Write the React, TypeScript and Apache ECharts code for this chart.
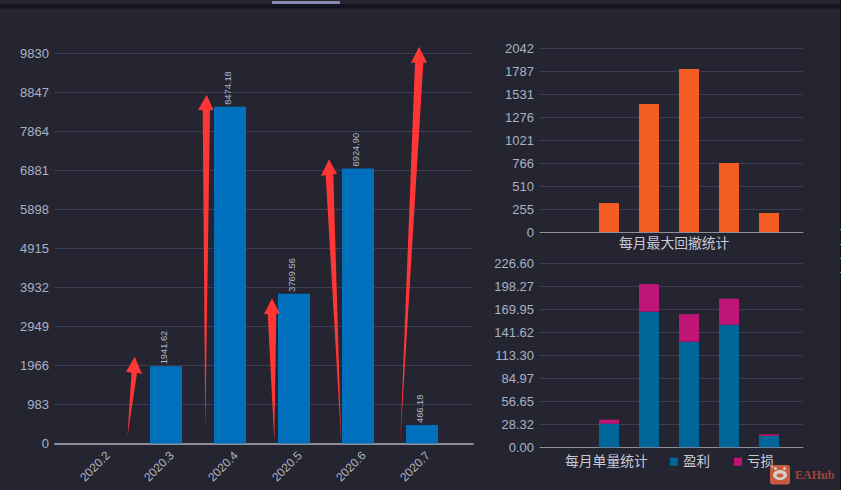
import { useEffect, useRef } from 'react';
import * as echarts from 'echarts';

const months = ['2020.2', '2020.3', '2020.4', '2020.5', '2020.6', '2020.7'];
const monthlyProfit = [0, 1941.62, 8474.18, 3769.56, 6924.9, 466.18];
const maxDrawdown = [0, 322, 1423, 1812, 767, 211];
const winOrders = [0, 29, 167, 130, 151, 14];
const lossOrders = [0, 5, 34, 34, 32, 2];

const profitTicks = ['0', '983', '1966', '2949', '3932', '4915', '5898', '6881', '7864', '8847', '9830'];
const drawdownTicks = ['0', '255', '510', '766', '1021', '1276', '1531', '1787', '2042'];
const orderTicks = ['0.00', '28.32', '56.65', '84.97', '113.30', '141.62', '169.95', '198.27', '226.60'];

// hand drawn arrows sitting on top of the screenshot
const arrows = [
  [[127.5, 436], [131.5, 372.7], [126, 371.7], [134.7, 356.7], [142, 373.7], [137, 373]],
  [[205.3, 431.7], [202.7, 110.3], [198, 110], [206.7, 95], [213.7, 110.3], [210, 110.3]],
  [[274.3, 441], [267.7, 314], [264, 314.3], [272, 298.3], [280, 313.7], [276.3, 313.7]],
  [[341.3, 444.3], [325.7, 175.3], [321, 175.7], [329, 159.3], [337, 174], [333.3, 174.3]],
  [[400.3, 441.7], [415, 62.7], [411, 62.7], [419, 46.7], [427, 62.7], [423.3, 62.7]],
];
const greenMarks = [229, 244, 258, 272];

const bg = '#252532';
const tickColor = '#a9b1c2';
const lineColor = '#3f3d56';
const font = '"Liberation Sans", "Noto Sans CJK SC", sans-serif';

function frameAxes(gridIndex: number, max: number, interval: number, ticks: string[], axisWidth: number) {
  return {
    x: {
      type: 'category',
      gridIndex,
      data: months,
      axisTick: { show: false },
      axisLabel: { show: false },
      axisLine: { lineStyle: { color: '#8f8f9c', width: axisWidth } },
    },
    y: {
      type: 'value',
      gridIndex,
      min: 0,
      max,
      interval,
      axisLine: { show: false },
      axisTick: { show: false },
      axisLabel: {
        color: tickColor,
        fontSize: 13,
        fontFamily: font,
        margin: 6,
        formatter: (_v: number, i: number) => ticks[i],
      },
      splitLine: { lineStyle: { color: lineColor, width: 1 } },
    },
  };
}

function barAxes(gridIndex: number, max: number, showLabels: boolean) {
  return {
    x: {
      type: 'category',
      gridIndex,
      data: months,
      axisTick: { show: false },
      axisLine: { show: false },
      axisLabel: showLabels
        ? { color: tickColor, fontSize: 12, fontFamily: font, rotate: 45, margin: 10, interval: 0 }
        : { show: false },
    },
    y: { type: 'value', gridIndex, min: 0, max, show: false, splitLine: { show: false } },
  };
}

export default function App() {
  const chartRef = useRef<HTMLDivElement>(null);

  useEffect(() => {
    const chart = echarts.init(chartRef.current, null, { renderer: 'svg' });

    const axes = [
      frameAxes(0, 9830, 983, profitTicks, 2),
      barAxes(1, 9830, false),
      frameAxes(2, 2042, 255.25, drawdownTicks, 1),
      barAxes(3, 2042, false),
      frameAxes(4, 226.6, 28.325, orderTicks, 1),
      barAxes(5, 226.6, false),
      // month labels sit a little right of the bars, so they get their own grid
      barAxes(6, 9830, true),
    ];

    const option = {
      animation: false,
      backgroundColor: bg,
      textStyle: { fontFamily: font },
      title: [
        {
          text: '每月最大回撤统计',
          left: 619,
          top: 237,
          padding: 0,
          textStyle: { color: '#c6cad6', fontSize: 13.8, fontWeight: 'normal' },
        },
        {
          text: '每月单量统计',
          left: 565,
          top: 455,
          padding: 0,
          textStyle: { color: '#c6cad6', fontSize: 13.8, fontWeight: 'normal' },
        },
      ],
      legend: {
        left: 670,
        top: 455,
        padding: 0,
        icon: 'rect',
        itemWidth: 8,
        itemHeight: 8,
        itemGap: 24,
        data: ['盈利', '亏损'],
        textStyle: { color: '#c6cad6', fontSize: 13.5 },
      },
      grid: [
        { left: 55, top: 53, width: 418, height: 390.5 },
        { left: 70, top: 53, width: 384, height: 390.5 },
        { left: 540, top: 48.3, width: 263, height: 183.7 },
        { left: 549, top: 48.3, width: 240, height: 183.7 },
        { left: 540, top: 263.3, width: 263, height: 184 },
        { left: 549, top: 263.3, width: 240, height: 184 },
        { left: 76, top: 53, width: 384, height: 390.5 },
      ],
      xAxis: axes.map((a) => a.x),
      yAxis: axes.map((a) => a.y),
      series: [
        {
          name: '月盈利',
          type: 'bar',
          xAxisIndex: 1,
          yAxisIndex: 1,
          data: monthlyProfit.map((v) => (v ? v : null)),
          barWidth: 32,
          itemStyle: { color: '#0070bc' },
          label: {
            show: true,
            position: 'top',
            rotate: 90,
            align: 'left',
            verticalAlign: 'middle',
            distance: 2,
            offset: [0, -2],
            color: '#aeb8c6',
            fontSize: 9.3,
            fontFamily: font,
            formatter: (p: any) => p.value.toFixed(2),
          },
        },
        {
          name: '最大回撤',
          type: 'bar',
          xAxisIndex: 3,
          yAxisIndex: 3,
          data: maxDrawdown,
          barWidth: 20,
          itemStyle: { color: '#f35c23' },
        },
        {
          name: '盈利',
          type: 'bar',
          stack: 'orders',
          xAxisIndex: 5,
          yAxisIndex: 5,
          data: winOrders,
          barWidth: 20,
          itemStyle: { color: '#006699' },
        },
        {
          name: '亏损',
          type: 'bar',
          stack: 'orders',
          xAxisIndex: 5,
          yAxisIndex: 5,
          data: lossOrders,
          barWidth: 20,
          itemStyle: { color: '#be1577' },
        },
      ],
      graphic: [
        { type: 'rect', z: 50, shape: { x: 0, y: 4, width: 841, height: 4.5 }, style: { fill: '#14141f' } },
        { type: 'rect', z: 50, shape: { x: 272, y: 1, width: 68, height: 3 }, style: { fill: '#8a8aae' } },
        { type: 'rect', z: 50, shape: { x: 840, y: 0, width: 1, height: 490 }, style: { fill: '#14141f' } },
        ...greenMarks.map((y) => ({
          type: 'rect',
          z: 51,
          shape: { x: 840, y, width: 1, height: 1 },
          style: { fill: '#3fae4c' },
        })),
        ...arrows.map((points) => ({
          type: 'polygon',
          z: 60,
          shape: { points },
          style: { fill: '#ff3636' },
        })),
        {
          type: 'group',
          z: 70,
          children: [
            { type: 'rect', shape: { x: 770, y: 465, width: 20, height: 19.5, r: 3 }, style: { fill: '#c95a40' } },
            { type: 'circle', shape: { cx: 775.5, cy: 468.5, r: 1.5 }, style: { fill: '#d8ccc4' } },
            { type: 'circle', shape: { cx: 784.5, cy: 468.5, r: 1.5 }, style: { fill: '#d8ccc4' } },
            { type: 'ellipse', shape: { cx: 780, cy: 475, rx: 7, ry: 5 }, style: { fill: '#d8ccc4' } },
            { type: 'ellipse', shape: { cx: 780, cy: 475.5, rx: 3.5, ry: 2 }, style: { fill: '#c95a40' } },
            {
              type: 'text',
              x: 795,
              y: 469,
              style: {
                text: 'EAHub',
                fill: '#9c463a',
                fontSize: 12,
                fontWeight: 'bold',
                fontFamily: '"Liberation Serif", serif',
              },
            },
          ],
        },
      ],
    };

    chart.setOption(option);
    return () => {
      chart.dispose();
    };
  }, []);

  return (
    <div
      ref={chartRef}
      style={{ position: 'absolute', left: 0, top: 0, width: '841px', height: '490px' }}
    />
  );
}
